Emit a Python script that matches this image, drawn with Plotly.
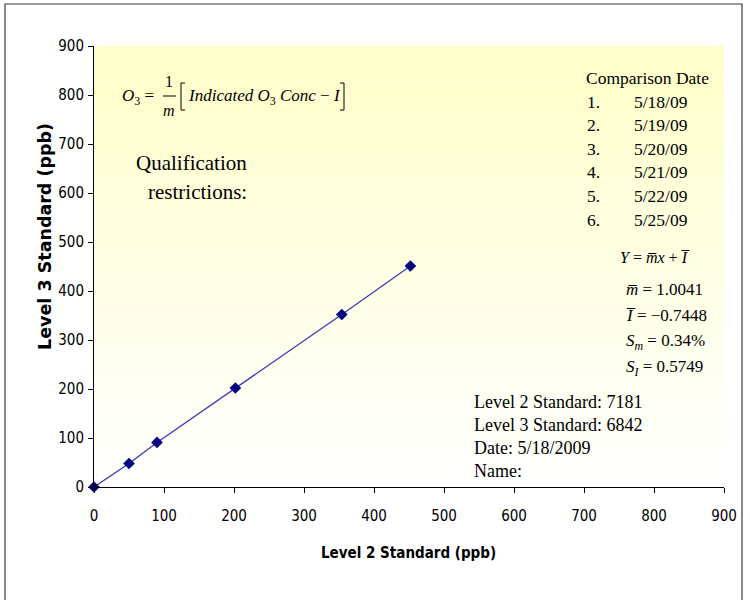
import plotly.graph_objects as go

# Paired readings (ppb)
level2_ppb = [0, 50, 90, 202, 354, 452]
level3_ppb = [0, 48, 91, 202, 352, 451]

axis_ticks = [0, 100, 200, 300, 400, 500, 600, 700, 800, 900]

comparison_numbers = ["1.", "2.", "3.", "4.", "5.", "6."]
comparison_dates = ["5/18/09", "5/19/09", "5/20/09", "5/21/09", "5/22/09", "5/25/09"]

stat_lines = [
    "<i>m\u0305</i> = 1.0041",
    "<i>I\u0305</i> = \u22120.7448",
    "<i>S</i><sub><i>m</i></sub> = 0.34%",
    "<i>S</i><sub><i>I</i></sub> = 0.5749",
]

info_lines = [
    "Level 2 Standard: 7181",
    "Level 3 Standard: 6842",
    "Date: 5/18/2009",
    "Name:",
]

W, H = 750, 600
L, R, T, B = 94, 724, 46, 487  # plot-area edges in pixels


def px(x):
    return (x - L) / (R - L)


def py(y):
    return (B - y) / (B - T)


SERIF = "Liberation Serif"
COND = "DejaVu Sans Condensed, Liberation Sans, sans-serif"

fig = go.Figure()
fig.add_trace(go.Scatter(
    x=level2_ppb, y=level3_ppb, mode="lines+markers",
    line=dict(color="#3B3BB5", width=1.3),
    marker=dict(symbol="diamond", size=9, color="#000080"),
    showlegend=False, cliponaxis=False,
))

shapes = []
# vertical yellow-to-white wash behind the data
n_bands = 60
for i in range(n_bands):
    t = i / (n_bands - 1)  # 0 bottom, 1 top
    b = int(round(255 - t * (255 - 200)))
    shapes.append(dict(
        type="rect", xref="x domain", yref="y domain",
        x0=0, x1=1, y0=i / n_bands, y1=(i + 1) / n_bands,
        fillcolor=f"rgb(255,255,{b})", line=dict(width=0), layer="below",
    ))
# outer frame
shapes.append(dict(
    type="rect", xref="paper", yref="paper",
    x0=px(5), x1=px(742), y0=py(606), y1=py(4),
    line=dict(color="#3a3a3a", width=1.2), fillcolor="rgba(0,0,0,0)",
))
# fraction bar in the O3 expression
shapes.append(dict(
    type="line", xref="paper", yref="paper",
    x0=px(163), x1=px(176), y0=py(96), y1=py(96),
    line=dict(color="black", width=1),
))
# square brackets around the indicated concentration term
for xb, sgn in ((181, 1), (344, -1)):
    shapes.append(dict(
        type="path", xref="paper", yref="paper",
        path=(f"M {px(xb + sgn * 4)},{py(83)} L {px(xb)},{py(83)} "
              f"L {px(xb)},{py(110)} L {px(xb + sgn * 4)},{py(110)}"),
        line=dict(color="black", width=1),
    ))

ann = []


def text(x, y, s, size=17, anchor="left", family=SERIF, **kw):
    ann.append(dict(
        x=px(x), y=py(y), xref="paper", yref="paper", text=s,
        showarrow=False, xanchor=anchor, yanchor="middle",
        font=dict(family=family, size=size, color="black"), **kw,
    ))


# axis titles
text(45, 237, "<b>Level 3 Standard (ppb)</b>", size=17.5, anchor="center",
     family="DejaVu Sans", textangle=-90)
text(408, 553, "<b>Level 2 Standard (ppb)</b>", size=15, anchor="center",
     family=COND)

# O3 expression
text(120, 97, "<i>O</i><sub>3</sub> =", size=17)
text(169, 81, "1", size=16, anchor="center")
text(169, 110, "<i>m</i>", size=16, anchor="center")
text(186, 97, "<i>Indicated O</i><sub>3</sub><i> Conc</i> \u2212 <i>I</i>", size=17)

# qualification note
text(191, 163, "Qualification", size=21, anchor="center")
text(197, 192, "restrictions:", size=21, anchor="center")

# comparison dates
text(584, 78, "Comparison Date", size=17.5)
for i, (num, d) in enumerate(zip(comparison_numbers, comparison_dates)):
    y = 101.5 + i * 23.6
    text(585, y, num, size=17.5)
    text(632, y, d, size=17.5)

# regression summary
text(618, 257, "<i>Y</i> = <i>m\u0305x</i> + <i>I\u0305</i>", size=16)
for i, s in enumerate(stat_lines):
    text(624, 289 + i * 26.3, s, size=17)

# standards info
for i, s in enumerate(info_lines):
    text(472, 402 + i * 23, s, size=18)

tick_font = dict(family=COND, size=15, color="black")
common_axis = dict(
    range=[0, 900], tickvals=axis_ticks, ticks="outside", ticklen=5,
    tickcolor="black", tickwidth=1, showline=True, linecolor="black",
    linewidth=1, showgrid=False, zeroline=False, tickfont=tick_font,
    fixedrange=True,
)

fig.update_layout(
    width=W, height=H,
    margin=dict(l=L, r=W - R, t=T, b=H - B),
    paper_bgcolor="white", plot_bgcolor="white",
    xaxis=dict(**common_axis, ticklabelstandoff=10),
    yaxis=dict(**common_axis, ticklabelstandoff=1),
    shapes=shapes, annotations=ann,
)

fig.write_html("out.html")
